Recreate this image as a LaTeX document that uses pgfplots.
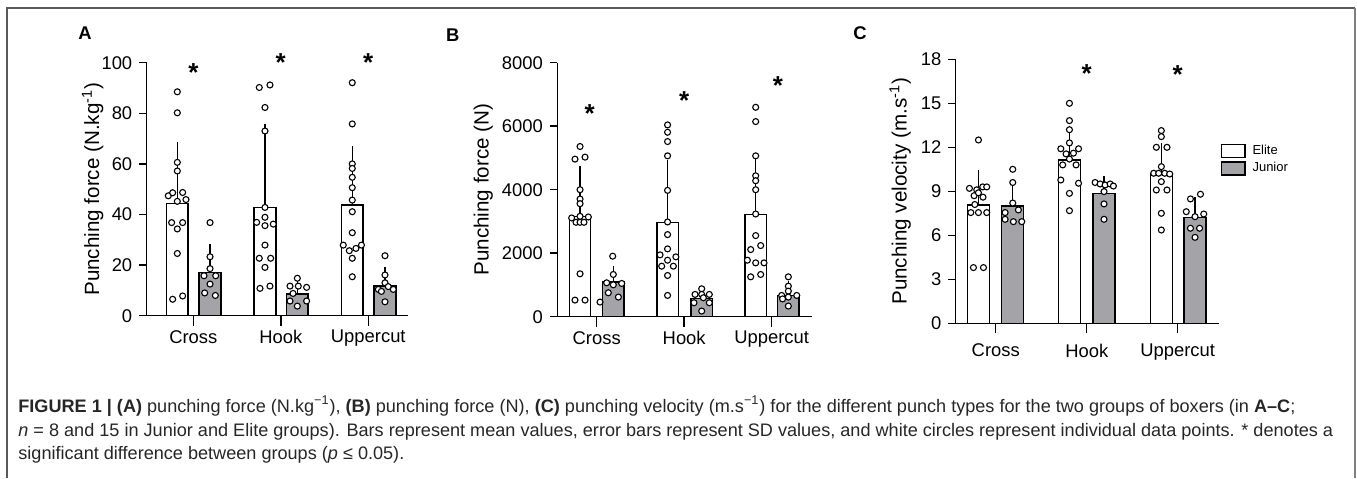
\documentclass[border=0pt]{standalone}
\usepackage{pgfplots}
\pgfplotsset{compat=1.18}
\usepackage{fontspec}
\setmainfont{Liberation Sans}
\definecolor{junior}{RGB}{163,163,168}
\definecolor{framegray}{RGB}{90,90,90}
\newcommand\ticks{\fontsize{9.2}{11}\selectfont}
\newcommand\labs{\fontsize{10.3}{12}\selectfont}
\newcommand\starfont{\fontsize{13}{13}\selectfont\bfseries}
\newcommand\capfont{\fontsize{9.05}{10.5}\selectfont}

\pgfplotsset{
  panel/.style={
    scale only axis, anchor=south west,
    axis x line*=bottom, axis y line*=left,
    axis line style={-, line width=0.75pt},
    tick align=outside, major tick length=3.7pt,
    xtick style={/pgfplots/major tick length=5pt, line width=0.75pt, black},
    ytick style={line width=0.75pt, black},
    xtick={0,1,2}, xticklabels={Cross,Hook,Uppercut},
    tick label style={font=\ticks},
    label style={font=\labs},
    /pgf/number format/assume math mode=true,
    /pgf/number format/1000 sep={},
    scaled y ticks=false,
    ymin=0, clip=false, enlargelimits=false,
  },
  barE/.style={ybar, bar shift=0pt, fill=white, draw=black, line width=0.7pt,
    legend image code/.code={\draw[##1, line width=0.6pt] (0pt,-3.25pt) rectangle (11.65pt,3.25pt);}},
  barJ/.style={ybar, bar shift=0pt, fill=junior, draw=black, line width=0.7pt,
    legend image code/.code={\draw[##1, line width=0.6pt] (0pt,-3.25pt) rectangle (11.65pt,3.25pt);}},
  errs/.style={error bars/.cd, y dir=plus, y explicit,
    error bar style={line width=0.7pt, black},
    error mark options={line width=0.7pt, mark size=2.2pt, black}},
  dots/.style={only marks, mark=*, mark size=1.5pt, forget plot,
    mark options={fill=white, draw=black, line width=0.55pt}},
  stars/.style={draw=none, mark=none, forget plot, nodes near coords,
    point meta=explicit symbolic,
    nodes near coords style={anchor=north, yshift=2pt, inner sep=0pt, font=\starfont}},
}

\begin{document}
\begin{tikzpicture}
\path[use as bounding box] (0,0) rectangle (678.5pt,239pt);
% frame
\draw[framegray, line width=1pt] (3.65pt,0) -- (3.65pt,234.85pt) -- (677.5pt,234.85pt);
\draw[gray, line width=0.8pt] (677.5pt,234.85pt) -- (677.5pt,0);

\node[font=\bfseries\fontsize{9.2}{11}\selectfont] at (42.5pt,222.5pt) {A};
\node[font=\bfseries\fontsize{9.2}{11}\selectfont] at (226.35pt,221.5pt) {B};
\node[font=\bfseries\fontsize{9.2}{11}\selectfont] at (430pt,222.5pt) {C};

% ---------------- A
\begin{axis}[panel, at={(73.35pt,81.15pt)}, width=130.65pt, height=126.5pt,
  xmin=-0.533, xmax=2.454, ymax=100, ytick={0,20,...,100},
  bar width=0.248,
  ylabel={Punching force (N.kg\textsuperscript{-1})},
  ylabel style={at={(axis description cs:-0.207,0.5)}, anchor=center}]
\addplot[barE, errs] coordinates {(-0.183,44.4) +- (0,22.7) (0.819,42.7) +- (0,31.3) (1.817,43.7) +- (0,21.5)};
\addplot[barJ, errs] coordinates {(0.191,17.0) +- (0,9.5) (1.189,8.6) +- (0,3.9) (2.191,11.7) +- (0,5.7)};
\addplot[dots] coordinates {
 (-0.183,88.5) (-0.183,80.2) (-0.183,60.6) (-0.183,57.2) (-0.286,47.4) (-0.236,48.6)
 (-0.122,48.7) (-0.084,45.9) (-0.183,45.2) (-0.248,36.8) (-0.122,36.8) (-0.183,34.3)
 (-0.183,24.6) (-0.236,6.5) (-0.122,7.8)
 (0.754,90.2) (0.876,91.2) (0.819,82.3) (0.819,73.0) (0.819,42.8) (0.819,38.9)
 (0.724,36.9) (0.819,35.6) (0.914,36.2) (0.819,27.9) (0.754,22.7) (0.884,22.7)
 (0.819,19.1) (0.762,10.8) (0.876,11.7)
 (1.817,92.1) (1.817,75.8) (1.817,60.0) (1.817,58.2) (1.817,54.7) (1.817,50.6)
 (1.817,45.7) (1.817,41.1) (1.817,32.8) (1.714,27.9) (1.922,27.9) (1.783,25.7)
 (1.859,26.6) (1.817,22.7) (1.817,15.4)};
\addplot[dots] coordinates {
 (0.191,36.8) (0.191,23.3) (0.191,18.6) (0.122,15.8) (0.256,15.8) (0.191,12.5) (0.130,9.0) (0.252,8.0)
 (1.189,14.8) (1.105,11.7) (1.200,11.7) (1.295,11.2) (1.140,8.8) (1.105,5.8) (1.295,5.8) (1.189,3.8)
 (2.191,23.7) (2.191,16.1) (2.191,13.0) (2.115,10.4) (2.229,11.5) (2.286,10.4) (2.150,9.6) (2.191,5.5)};
\addplot[stars] coordinates {(0,98.4)[*] (1,102.1)[*] (2,102.1)[*]};
\end{axis}

% ---------------- B
\begin{axis}[panel, at={(278.65pt,80.65pt)}, width=127.2pt, height=127pt,
  xmin=-0.45, xmax=2.457, ymax=8000, ytick={0,2000,...,8000},
  bar width=0.244,
  ylabel={Punching force (N)},
  ylabel style={at={(axis description cs:-0.291,0.5)}, anchor=center}]
\addplot[barE, errs] coordinates {(-0.19,3162) +- (0,1435) (0.81,2974) +- (0,1822) (1.817,3215) +- (0,1780)};
\addplot[barJ, errs] coordinates {(0.19,1089) +- (0,377) (1.2,576) +- (0,178) (2.19,670) +- (0,325)};
\addplot[dots] coordinates {
 (-0.190,5361) (-0.248,4963) (-0.133,5026) (-0.190,4000) (-0.190,3707) (-0.190,3560)
 (-0.286,3110) (-0.236,2974) (-0.190,2974) (-0.145,2974) (-0.095,3141) (-0.190,3162)
 (-0.190,1351) (-0.248,523) (-0.133,523)
 (0.810,6041) (0.810,5810) (0.810,5517) (0.810,5067) (0.810,3979) (0.810,2984)
 (0.810,2586) (0.810,2136) (0.724,1948) (0.905,1885) (0.810,1780) (0.743,1591)
 (0.876,1591) (0.810,1298) (0.810,670)
 (1.817,6596) (1.817,6146) (1.817,5067) (1.817,4439) (1.817,4282) (1.817,4000)
 (1.817,3235) (1.817,2555) (1.760,2115) (1.874,2241) (1.722,1780) (1.817,1696)
 (1.912,1696) (1.760,1256) (1.874,1330)};
\addplot[dots] coordinates {
 (0.183,1906) (0.190,1330) (0.114,1068) (0.286,1047) (0.190,1005) (0.133,754) (0.248,618) (0.038,461)
 (1.200,880) (1.124,702) (1.200,702) (1.287,702) (1.112,440) (1.287,440) (1.200,178) (1.219,597)
 (2.190,1256) (2.190,963) (2.190,806) (2.114,670) (2.190,618) (2.286,670) (2.124,560) (2.190,335)};
\addplot[stars] coordinates {(-0.08,6565)[*] (1.0,6984)[*] (2.07,7434)[*]};
\end{axis}

% ---------------- C
\begin{axis}[panel, at={(477.85pt,77.35pt)}, width=131.8pt, height=132pt,
  xmin=-0.44, xmax=2.457, ymax=18, ytick={0,3,...,18},
  bar width=0.242,
  xticklabel style={yshift=-3pt},
  ylabel={Punching velocity (m.s\textsuperscript{-1})},
  ylabel style={at={(axis description cs:-0.211,0.5)}, anchor=center},
  legend style={at={(axis description cs:1.005,0.619)}, anchor=west, draw=none, fill=none,
    inner sep=0pt, nodes={inner sep=1pt}, font=\fontsize{6.5}{7.5}\selectfont, row sep=0.5pt,
    /tikz/every odd column/.append style={column sep=2.5pt}},
  legend cell align=left]
\addplot[barE, errs] coordinates {(-0.19,8.07) +- (0,2.11) (0.81,11.14) +- (0,2.04) (1.82,10.18) +- (0,1.8)};
\addplot[barJ, errs] coordinates {(0.187,8.0) +- (0,1.39) (1.19,8.86) +- (0,0.87) (2.19,7.23) +- (0,1.07)};
\addplot[dots] coordinates {
 (-0.190,12.5) (-0.289,9.2) (-0.209,9.1) (-0.143,9.3) (-0.099,9.3) (-0.238,8.7) (-0.140,8.6)
 (-0.190,8.9) (-0.230,8.1) (-0.274,7.55) (-0.190,7.55) (-0.099,7.55) (-0.245,3.8) (-0.135,3.8)
 (0.810,15.0) (0.810,13.82) (0.810,13.2) (0.810,12.3) (0.715,11.9) (0.910,11.9) (0.773,11.55)
 (0.854,11.6) (0.736,10.8) (0.883,10.8) (0.715,9.77) (0.910,9.55) (0.810,8.86) (0.810,7.68) (0.810,11.2)
 (1.820,13.14) (1.820,12.73) (1.765,12.0) (1.882,12.0) (1.820,10.68) (1.736,10.23) (1.791,10.23)
 (1.857,10.23) (1.912,10.18) (1.820,9.66) (1.765,9.09) (1.882,9.09) (1.820,7.5) (1.820,6.36)};
\addplot[dots] coordinates {
 (0.187,10.5) (0.187,9.6) (0.187,8.2) (0.103,7.55) (0.249,7.73) (0.103,7.09) (0.194,6.93) (0.286,6.93)
 (1.092,9.6) (1.147,9.5) (1.202,9.43) (1.257,9.5) (1.293,9.36) (1.190,8.98) (1.190,8.14) (1.190,7.09)
 (2.140,8.48) (2.250,8.8) (2.094,7.61) (2.190,7.27) (2.286,7.45) (2.140,6.48) (2.240,6.48) (2.190,5.86)};
\addplot[stars] coordinates {(1.0,17.4)[*] (2.0,17.3)[*]};
\legend{Elite,Junior}
\end{axis}

% caption
\begin{scope}[every node/.style={anchor=base west, inner sep=0pt, font=\capfont, text=black!85}]
\node at (9pt,33pt) {\textbf{FIGURE 1 | (A)} punching force (N.kg\textsuperscript{−1}), \textbf{(B)} punching force (N), \textbf{(C)} punching velocity (m.s\textsuperscript{−1}) for the different punch types for the two groups of boxers (in \textbf{A–C};};
\node at (9pt,21pt) {\textit{n} = 8 and 15 in Junior and Elite groups). Bars represent mean values, error bars represent SD values, and white circles represent individual data points. * denotes a};
\node at (9pt,9.5pt) {significant difference between groups (\textit{p} ≤ 0.05).};
\end{scope}
\end{tikzpicture}
\end{document}
